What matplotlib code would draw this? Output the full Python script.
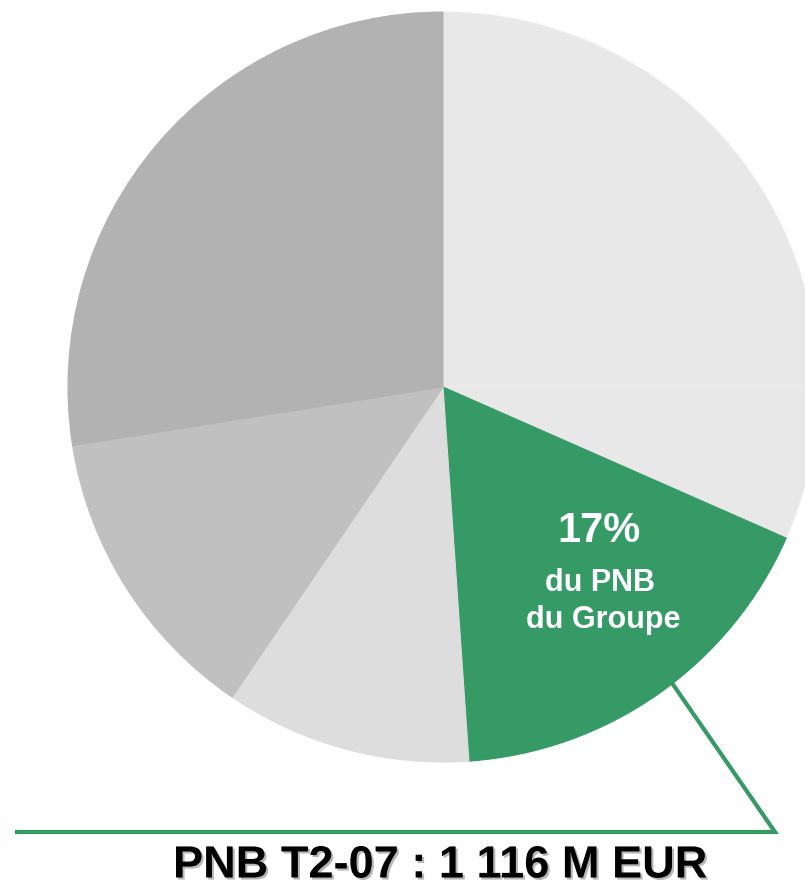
import matplotlib
matplotlib.use("Agg")
import matplotlib.pyplot as plt
import matplotlib.patheffects as pe

# Data (shares of PNB, clockwise from 12 o'clock)
segments = ["Seg A", "Seg B", "Seg C (green)", "Seg D", "Seg E", "Seg F"]
shares = [25.0, 6.6, 17.3, 10.6, 13.0, 27.5]
colors = ["#e8e8e8", "#e8e8e8", "#359a66", "#dddddd", "#c0c0c0", "#b2b2b2"]
label_main = "17%"
label_sub = ["du PNB", "du Groupe"]
title = "PNB T2-07 : 1 116 M EUR"

W, H = 805, 889
fig = plt.figure(figsize=(W / 100, H / 100), dpi=100)
ax = fig.add_axes([0, 0, 1, 1])

cx, cy, r = 443, H - 387, 375
wedges, _ = ax.pie(shares, colors=colors, startangle=90, counterclock=False,
                   center=(cx, cy), radius=r, frame=True,
                   wedgeprops=dict(linewidth=0.8, edgecolor="#ededed"))
for w, c in zip(wedges, colors):
    if c != "#e8e8e8":
        w.set_edgecolor(c)
ax.set_xlim(0, W)
ax.set_ylim(0, H)
ax.set_aspect("equal")
ax.axis("off")

green = "#359a66"
ax.plot([15, 775, 672], [H - 832, H - 832, H - 683], color=green, lw=3,
        solid_joinstyle="miter", solid_capstyle="butt", zorder=5)

fam = ["Liberation Sans", "DejaVu Sans"]
ax.text(599, H - 531, label_main, color="white", fontsize=30, fontweight="bold",
        family=fam, ha="center", va="center")
ax.text(600, H - 583, label_sub[0], color="white", fontsize=22, fontweight="bold",
        family=fam, ha="center", va="center")
ax.text(603, H - 620, label_sub[1], color="white", fontsize=22, fontweight="bold",
        family=fam, ha="center", va="center")

ax.text(440, H - 866, title, color="black", fontsize=32.5, fontweight="bold",
        family=fam, ha="center", va="center",
        path_effects=[pe.withSimplePatchShadow(offset=(1.5, -1.5),
                                               shadow_rgbFace="#888888", alpha=0.6)])

fig.savefig("out.png", dpi=100)
